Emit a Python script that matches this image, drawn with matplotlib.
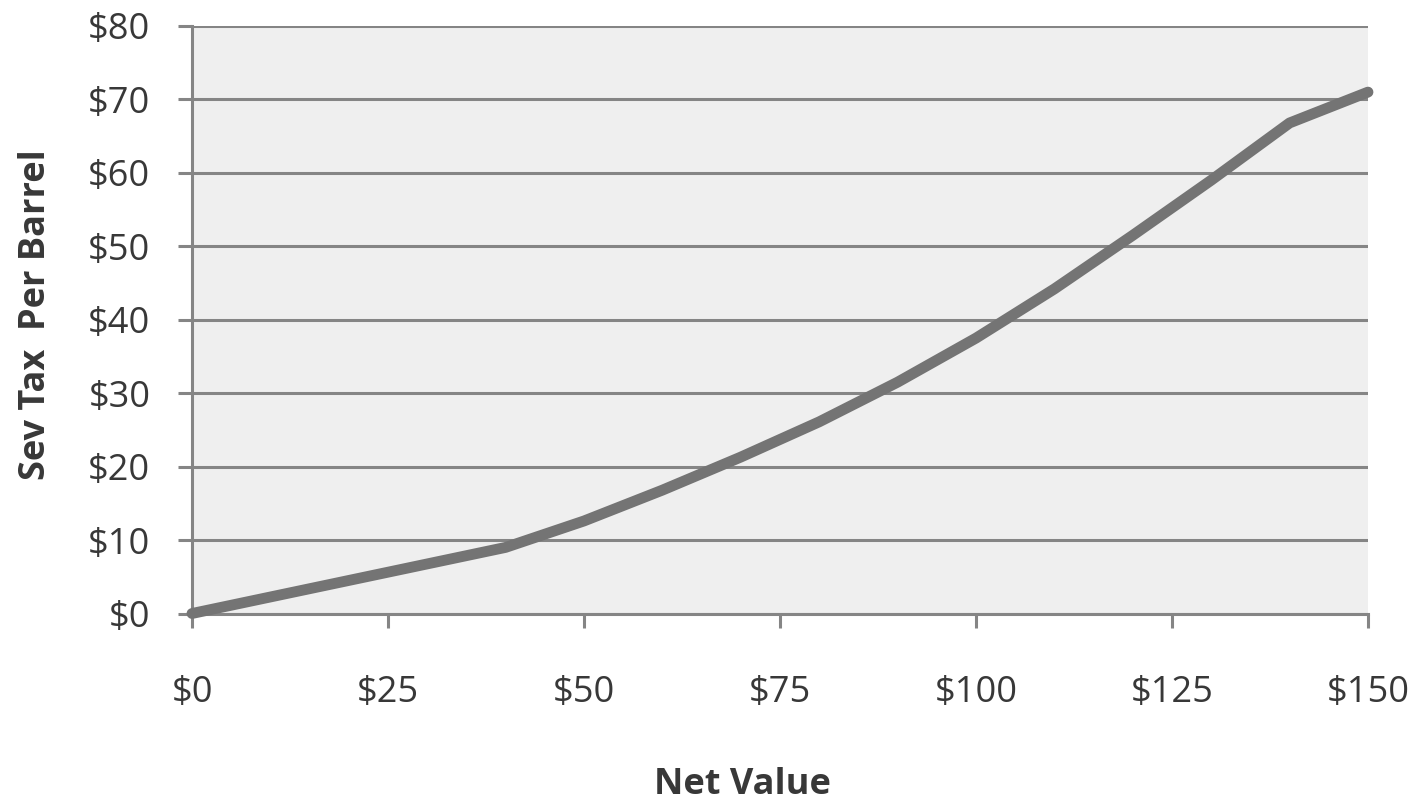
import matplotlib
matplotlib.use("Agg")
import matplotlib.pyplot as plt
from matplotlib.ticker import FuncFormatter

# Severance tax per barrel as a function of net value
net_value = [0, 10, 20, 30, 40, 50, 60, 70, 80, 90, 100, 110, 120, 130, 140, 150]
sev_tax = [0, 2.25, 4.5, 6.75, 9.0, 12.6, 16.8, 21.3, 26.1, 31.5, 37.5, 44.2, 51.5, 59.0, 66.8, 71.0]

x_ticks = [0, 25, 50, 75, 100, 125, 150]
y_ticks = [0, 10, 20, 30, 40, 50, 60, 70, 80]

plt.rcParams['font.family'] = ['Open Sans', 'DejaVu Sans']

fig = plt.figure(figsize=(14.24, 8.01), dpi=100)
fig.patch.set_facecolor('white')
ax = fig.add_axes([192 / 1424, 1 - 613.5 / 801, (1368 - 192) / 1424, (613.5 - 26) / 801])
ax.set_facecolor('#efefef')

grid_color = '#858585'
ax.set_xlim(0, 150)
ax.set_ylim(0, 80)
ax.set_xticks(x_ticks)
ax.set_yticks(y_ticks)
ax.yaxis.grid(True, color=grid_color, linewidth=2.2)
ax.set_axisbelow(True)

for side in ['top', 'right']:
    ax.spines[side].set_visible(False)
for side in ['left', 'bottom']:
    ax.spines[side].set_color(grid_color)
    ax.spines[side].set_linewidth(2.2)

ax.plot(net_value, sev_tax, color='#747474', linewidth=7.8,
        solid_capstyle='round', solid_joinstyle='round', clip_on=False, zorder=3)

money = FuncFormatter(lambda v, _: f"${v:.0f}")
ax.xaxis.set_major_formatter(money)
ax.yaxis.set_major_formatter(money)

ax.tick_params(axis='both', direction='out', color=grid_color, width=2.2,
               length=10, labelsize=26, labelcolor='#383838')
ax.tick_params(axis='x', pad=34)
ax.tick_params(axis='y', pad=20)

fig.text(742 / 1424, 1 - 785 / 801, 'Net Value', ha='center', va='center',
         fontsize=26, fontweight='bold', color='#383838')
fig.text(36 / 1424, 1 - 315 / 801, 'Sev Tax  Per Barrel', ha='center', va='center',
         rotation=90, fontsize=26, fontweight='bold', color='#383838')

fig.savefig('out.png', dpi=100)
